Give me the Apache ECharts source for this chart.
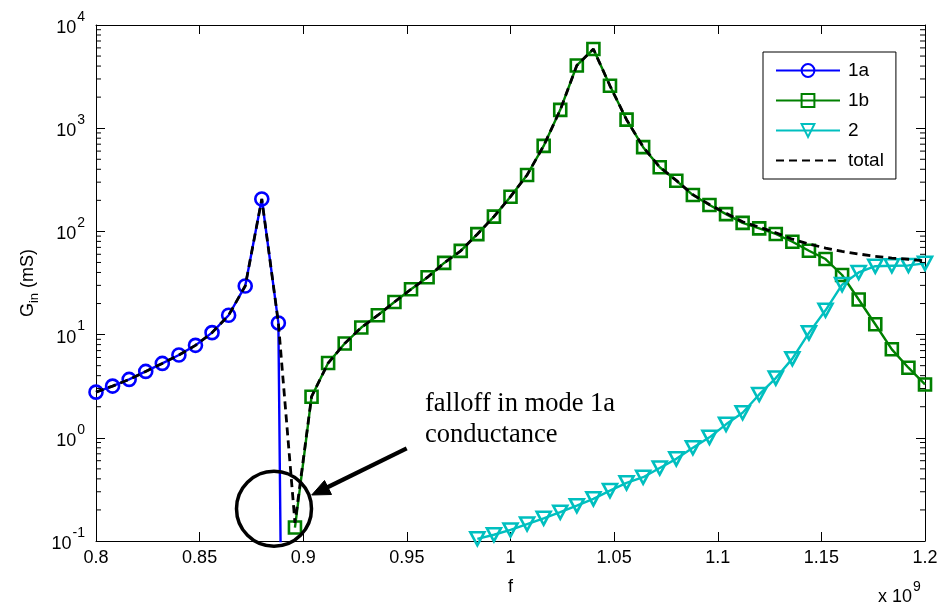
<!DOCTYPE html>
<html>
<head>
<meta charset="utf-8">
<script src="https://cdn.jsdelivr.net/npm/echarts@6/dist/echarts.min.js"></script>
<style>
html,body{margin:0;padding:0;background:#fff;}
#chart{width:942px;height:607px;}
</style>
</head>
<body>
<div id="chart"></div>
<script>
// ---- data ----
const f1a = [0.800,0.808,0.816,0.824,0.832,0.840,0.848,0.856,0.864,0.872,0.880,0.888,0.896];
const g1a = [2.77,3.17,3.68,4.4,5.26,6.34,7.87,10.45,15.4,29.6,206,12.97,1e-15];

const f1b = [0.896,0.904,0.912,0.920,0.928,0.936,0.944,0.952,0.960,0.968,0.976,0.984,0.992,
             1.000,1.008,1.016,1.024,1.032,1.040,1.048,1.056,1.064,1.072,1.080,1.088,1.096,
             1.104,1.112,1.120,1.128,1.136,1.144,1.152,1.160,1.168,1.176,1.184,1.192,1.200];
const g1b = [0.135,2.5,5.3,8.2,11.7,15.4,20.7,27.5,36,49.5,64.8,94,139,
             217,352,674,1506,4055,5850,2575,1210,655,418,310,225,180,
             147,121,107,94.4,79.4,65,54,37.8,21.9,12.6,7.2,4.78,3.29];

const f2 = [0.984,0.992,1.000,1.008,1.016,1.024,1.032,1.040,1.048,1.056,1.064,1.072,1.080,1.088,
            1.096,1.104,1.112,1.120,1.128,1.136,1.144,1.152,1.160,1.168,1.176,1.184,1.192,1.200];
const g2 = [0.105,0.115,0.128,0.146,0.166,0.19,0.22,0.256,0.308,0.366,0.415,0.51,0.625,0.8,
            1.01,1.35,1.75,2.63,3.79,5.85,10.4,17.2,30.5,40,46,46.5,46.8,49];

const fTot = [0.800,0.808,0.816,0.824,0.832,0.840,0.848,0.856,0.864,0.872,0.880,0.888,
              0.896,0.904,0.912,0.920,0.928,0.936,0.944,0.952,0.960,0.968,0.976,0.984,0.992,
              1.000,1.008,1.016,1.024,1.032,1.040,1.048,1.056,1.064,1.072,1.080,1.088,1.096,
              1.104,1.112,1.120,1.128,1.136,1.144,1.152,1.160,1.168,1.176,1.184,1.192,1.200];
const gTot = [2.77,3.17,3.68,4.4,5.26,6.34,7.87,10.45,15.4,29.6,206,12.97,
              0.15,2.5,5.3,8.2,11.7,15.4,20.7,27.5,36,49.5,64.8,94,139,
              217,352,675,1506,4055,5850,2575,1210,658,420,312,227,182,
              150,124,110,97,84,75.5,69,64,60.4,57.4,55.2,53.7,51.7];

const seriesNames = ['1a','1b','2','total'];
const xTickMin = 0.8, xTickMax = 1.2, xTickStep = 0.05;
const yMin = 0.1, yMax = 10000;
// minor log ticks (2..9 in each decade)
const minorTicks = [0.2,0.3,0.4,0.5,0.6,0.7,0.8,0.9,
                    2,3,4,5,6,7,8,9,
                    20,30,40,50,60,70,80,90,
                    200,300,400,500,600,700,800,900,
                    2000,3000,4000,5000,6000,7000,8000,9000];

const FONT = '"Liberation Sans", Arial, Helvetica, sans-serif';
const zip = (xs, ys) => xs.map((x, i) => [x, ys[i]]);

const chart = echarts.init(document.getElementById('chart'), null, {renderer: 'canvas'});

const axisLineStyle = {color: '#000', width: 1};
const CLEAR = 'rgba(255,255,255,0)';

const option = {
  animation: false,
  backgroundColor: '#fff',
  grid: {left: 96, right: 17, top: 25, bottom: 66, containLabel: false},
  legend: {
    orient: 'vertical',
    left: 763, top: 52,
    data: seriesNames,
    itemWidth: 64, itemHeight: 16, itemGap: 11,
    padding: [9, 12, 9, 12],
    borderColor: '#000', borderWidth: 1,
    backgroundColor: '#fff',
    textStyle: {fontFamily: FONT, fontSize: 19, color: '#000', padding: [0, 0, 0, 3]}
  },
  xAxis: [{
    type: 'value', min: xTickMin, max: xTickMax, interval: xTickStep,
    position: 'bottom',
    axisLine: {show: true, onZero: false, lineStyle: axisLineStyle},
    axisTick: {show: true, inside: true, length: 9, lineStyle: {color: '#000'}},
    axisLabel: {fontFamily: FONT, fontSize: 18, color: '#000', margin: 8,
                formatter: v => String(+v.toFixed(2))},
    splitLine: {show: false},
    name: 'f', nameLocation: 'middle', nameGap: 37,
    nameTextStyle: {fontFamily: FONT, fontSize: 18, color: '#000'}
  }, {
    type: 'value', min: xTickMin, max: xTickMax, interval: xTickStep,
    position: 'top',
    axisLine: {show: true, onZero: false, lineStyle: axisLineStyle},
    axisTick: {show: true, inside: true, length: 9, lineStyle: {color: '#000'}},
    axisLabel: {show: false},
    splitLine: {show: false}
  }],
  yAxis: [{
    type: 'log', logBase: 10, min: yMin, max: yMax,
    position: 'left',
    axisLine: {show: true, lineStyle: axisLineStyle},
    axisTick: {show: true, inside: true, length: 9, lineStyle: {color: '#000'}},
    axisLabel: {
      margin: 11, color: '#000',
      formatter: v => '{b|10}{s|' + Math.round(Math.log10(v)) + '}',
      rich: {
        b: {fontFamily: FONT, fontSize: 18, color: '#000', padding: [6, 0, 0, 0]},
        s: {fontFamily: FONT, fontSize: 14, color: '#000', padding: [0, 0, 16, 1]}
      }
    },
    splitLine: {show: false},
    name: '{a|G}{sub|in}{a| (mS)}',
    nameLocation: 'middle', nameGap: 36, nameRotate: 90,
    nameTextStyle: {
      rich: {
        a: {fontFamily: FONT, fontSize: 18, color: '#000'},
        sub: {fontFamily: FONT, fontSize: 13, color: '#000', padding: [12, 0, 0, 0]}
      }
    }
  }, {
    type: 'log', logBase: 10, min: yMin, max: yMax,
    position: 'right',
    axisLine: {show: true, lineStyle: axisLineStyle},
    axisTick: {show: true, inside: true, length: 9, lineStyle: {color: '#000'}},
    axisLabel: {show: false},
    splitLine: {show: false}
  }],
  series: [
    {
      name: '1a', type: 'line', data: zip(f1a, g1a),
      xAxisIndex: 0, yAxisIndex: 0,
      symbol: 'circle', symbolSize: 13, showAllSymbol: true,
      lineStyle: {color: '#0000ff', width: 2.4},
      itemStyle: {color: CLEAR, borderColor: '#0000ff', borderWidth: 2.6},
      clip: true, z: 3
    },
    {
      name: '1b', type: 'line', data: zip(f1b, g1b),
      xAxisIndex: 0, yAxisIndex: 0,
      symbol: 'rect', symbolSize: 12, showAllSymbol: true,
      lineStyle: {color: '#008000', width: 2.4},
      itemStyle: {color: CLEAR, borderColor: '#008000', borderWidth: 2.6},
      clip: true, z: 3
    },
    {
      name: '2', type: 'line', data: zip(f2, g2),
      xAxisIndex: 0, yAxisIndex: 0,
      symbol: 'triangle', symbolRotate: 180, symbolSize: [14, 13], showAllSymbol: true,
      lineStyle: {color: '#00bfbf', width: 2.4},
      itemStyle: {color: CLEAR, borderColor: '#00bfbf', borderWidth: 2.6},
      clip: true, z: 3
    },
    {
      name: 'total', type: 'line', data: zip(fTot, gTot),
      xAxisIndex: 0, yAxisIndex: 0,
      symbol: 'none', showSymbol: false,
      lineStyle: {color: '#000', width: 2.8, type: [8, 5]},
      itemStyle: {color: CLEAR, borderColor: CLEAR, borderWidth: 0},
      clip: true, z: 4
    },
    {
      name: 'minorTicks', type: 'custom', coordinateSystem: 'cartesian2d',
      xAxisIndex: 0, yAxisIndex: 0, silent: true, clip: false, z: 5,
      data: minorTicks.map(v => [1.0, v]),
      renderItem: (params, api) => {
        const y = api.coord([api.value(0), api.value(1)])[1];
        const cs = params.coordSys;
        return {
          type: 'group',
          children: [
            {type: 'line', shape: {x1: cs.x, y1: y, x2: cs.x + 5, y2: y},
             style: {stroke: '#000', lineWidth: 1}},
            {type: 'line', shape: {x1: cs.x + cs.width - 5, y1: y, x2: cs.x + cs.width, y2: y},
             style: {stroke: '#000', lineWidth: 1}}
          ]
        };
      }
    }
  ],
  graphic: [
    {type: 'circle', z: 100, shape: {cx: 274, cy: 508.7, r: 37.5},
     style: {fill: 'none', stroke: '#000', lineWidth: 3.5}},
    {type: 'line', z: 100, shape: {x1: 406.7, y1: 448.3, x2: 326, y2: 488},
     style: {stroke: '#000', lineWidth: 4.2}},
    {type: 'polygon', z: 100, shape: {points: [[311.7, 495], [324.5, 480.5], [331.5, 494.5]]},
     style: {fill: '#000', stroke: '#000', lineWidth: 1}},
    {type: 'text', z: 100, style: {text: 'falloff in mode 1a', x: 425, y: 404,
      font: '26.5px "Liberation Serif", "Times New Roman", serif', fill: '#000', verticalAlign: 'middle'}},
    {type: 'text', z: 100, style: {text: 'conductance', x: 425, y: 435,
      font: '26.5px "Liberation Serif", "Times New Roman", serif', fill: '#000', verticalAlign: 'middle'}},
    {type: 'text', z: 100, style: {
      text: '{a|x 10}{s|9}', x: 878, y: 597, verticalAlign: 'middle',
      rich: {
        a: {fontFamily: FONT, fontSize: 18, fill: '#000', color: '#000'},
        s: {fontFamily: FONT, fontSize: 14, fill: '#000', color: '#000', padding: [0, 0, 20, 1]}
      }}}
  ]
};
chart.setOption(option);
</script>
</body>
</html>
